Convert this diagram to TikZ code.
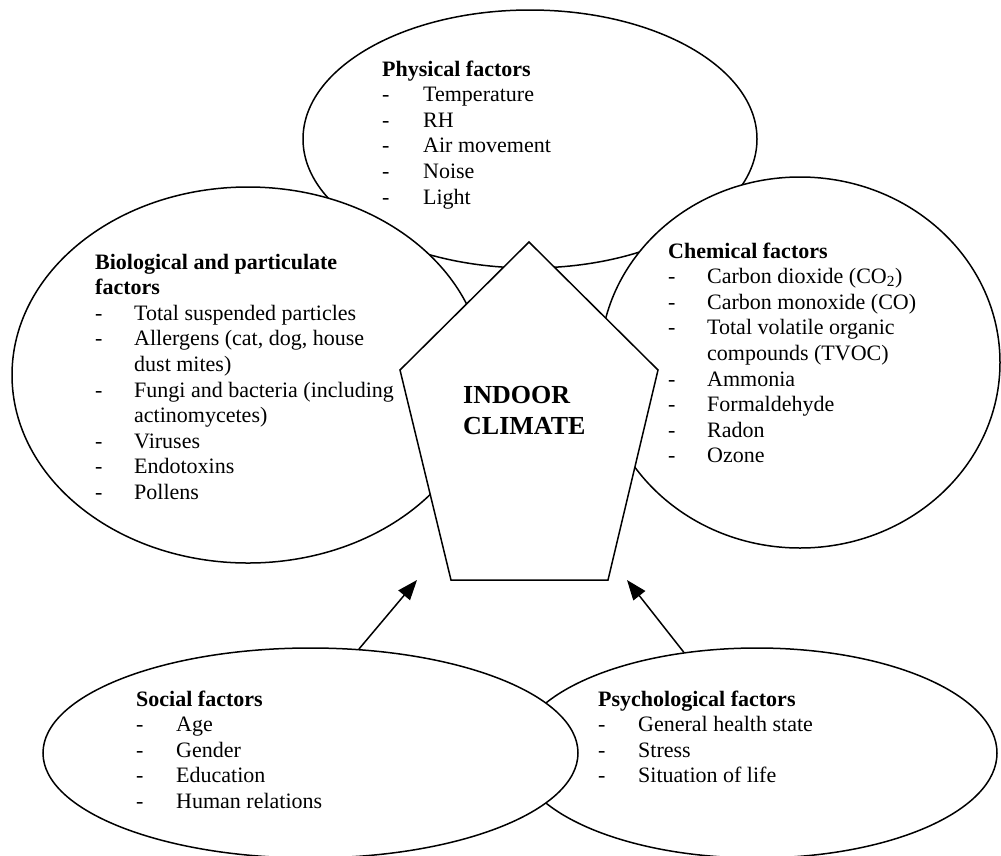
\documentclass[tikz,border=0pt]{standalone}
\usepackage{fontspec}
\setmainfont{Liberation Serif}
\usetikzlibrary{shapes.geometric,arrows.meta}
% heading row spanning both columns of a factor list
\newcommand\facthead[1]{\multicolumn{2}{@{}l@{}}{\bfseries #1}}
\begin{document}
\begin{tikzpicture}[x=1pt,y=-1pt,
  factor/.style={ellipse,draw,fill=white,line width=1.5pt,inner sep=0pt},
  listtext/.style={anchor=base west,inner sep=0pt,
    font=\fontsize{22}{25.6}\selectfont},
  arrowline/.style={line width=1.5pt,-{Triangle[length=20pt,width=15pt]}}]
\useasboundingbox (0,0) rectangle (1001,855);

% physical factors (drawn first, the others overlap it)
\node[factor,minimum width=454pt,minimum height=258pt] (phys) at (530,139) {};
\node[listtext] (physT) at (382,76) {\begin{tabular}[t]{@{}p{41pt}@{}l@{}}
  \facthead{Physical factors}\\
  - & Temperature\\
  - & RH\\
  - & Air movement\\
  - & Noise\\
  - & Light
\end{tabular}};

% biological and particulate factors
\node[factor,minimum width=472pt,minimum height=376pt] (bio) at (248,375) {};
\node[listtext] (bioT) at (95,269) {\begin{tabular}[t]{@{}p{39pt}@{}l@{}}
  \facthead{Biological and particulate}\\
  \facthead{factors}\\
  - & Total suspended particles\\
  - & Allergens (cat, dog, house\\
    & dust mites)\\
  - & Fungi and bacteria (including\\
    & actinomycetes)\\
  - & Viruses\\
  - & Endotoxins\\
  - & Pollens
\end{tabular}};

% chemical factors
\node[factor,minimum width=400pt,minimum height=371pt] (chem) at (800,362.5) {};
\node[listtext] (chemT) at (668,258) {\begin{tabular}[t]{@{}p{39pt}@{}l@{}}
  \facthead{Chemical factors}\\
  - & Carbon dioxide (CO\textsubscript{2})\\
  - & Carbon monoxide (CO)\\
  - & Total volatile organic\\
    & compounds (TVOC)\\
  - & Ammonia\\
  - & Formaldehyde\\
  - & Radon\\
  - & Ozone
\end{tabular}};

% central pentagon
\coordinate (pTop) at (529,242);
\coordinate (pUR) at (658,370);
\coordinate (pLR) at (608,580);
\coordinate (pLL) at (451,580);
\coordinate (pUL) at (400,370);
\draw[line width=1.5pt,fill=white,line join=miter]
  (pTop) -- (pUR) -- (pLR) -- (pLL) -- (pUL) -- cycle;
\node[anchor=base west,inner sep=0pt,
  font=\bfseries\fontsize{26}{31}\selectfont] (climate) at (463,403)
  {\begin{tabular}[t]{@{}l@{}}INDOOR\\CLIMATE\end{tabular}};

% psychological factors (under the social ellipse)
\node[factor,minimum width=480pt,minimum height=210pt] (psy) at (757,753) {};
\node[listtext] (psyT) at (598,706) {\begin{tabular}[t]{@{}p{40pt}@{}l@{}}
  \facthead{Psychological factors}\\
  - & General health state\\
  - & Stress\\
  - & Situation of life
\end{tabular}};

% social factors
\node[factor,minimum width=535pt,minimum height=210pt] (soc) at (310.5,753) {};
\node[listtext] (socT) at (136,706) {\begin{tabular}[t]{@{}p{40pt}@{}l@{}}
  \facthead{Social factors}\\
  - & Age\\
  - & Gender\\
  - & Education\\
  - & Human relations
\end{tabular}};

% influence arrows towards the indoor climate
\coordinate (tipL) at (417,580);
\coordinate (tipR) at (627,580);
\draw[arrowline] (soc.65.5) -- (tipL);
\draw[arrowline] (psy.126.5) -- (tipR);
\end{tikzpicture}
\end{document}
